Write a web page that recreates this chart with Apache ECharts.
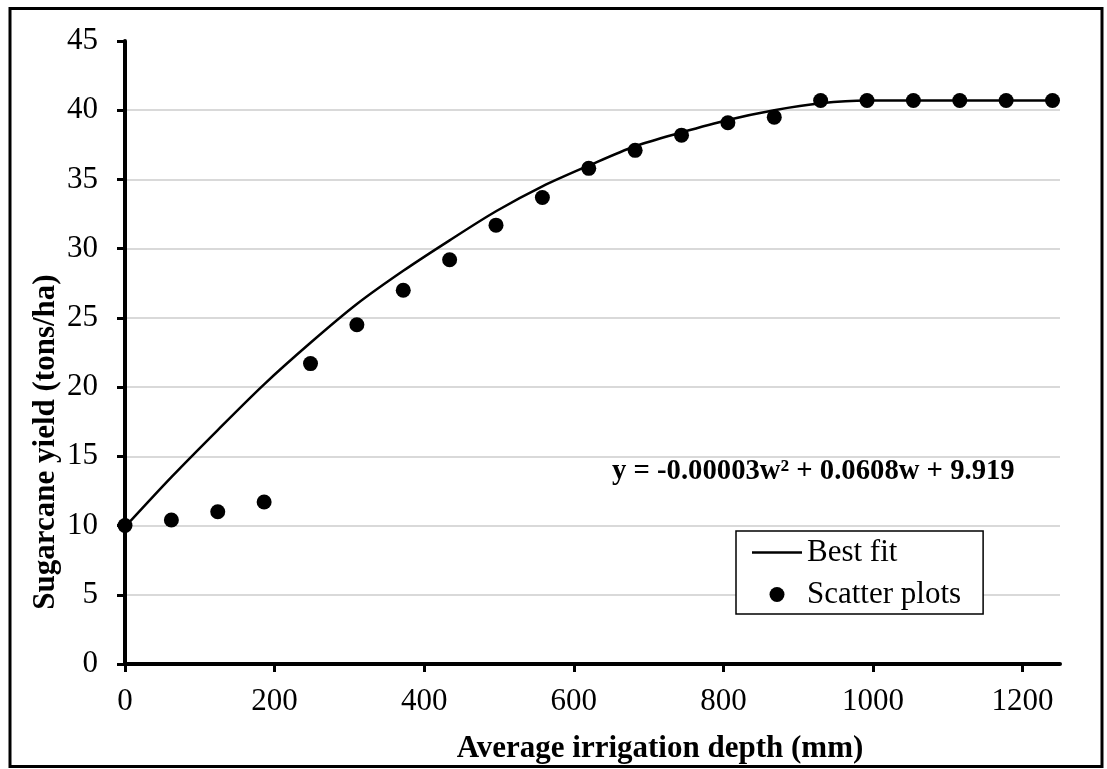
<!DOCTYPE html>
<html>
<head>
<meta charset="utf-8">
<script src="https://cdn.jsdelivr.net/npm/echarts@6/dist/echarts.min.js"></script>
<style>html,body{margin:0;padding:0;background:#fff;}#c{width:1107px;height:769px;}</style>
</head>
<body>
<div id="c"></div>
<script>
// Average irrigation depth (mm)
const depths = [0, 62, 124, 186, 248, 310, 372, 434, 496, 558, 620, 682, 744, 806, 868, 930, 992, 1054, 1116, 1178, 1240];
// Sugarcane yield (tons/ha), scatter plots
const yields = [10.0, 10.4, 11.0, 11.7, 21.7, 24.5, 27.0, 29.2, 31.7, 33.7, 35.8, 37.1, 38.2, 39.1, 39.5, 40.7, 40.7, 40.7, 40.7, 40.7, 40.7];
// Best fit curve
const fitDepths = [0, 62, 124, 186, 248, 310, 372, 434, 496, 558, 620, 682, 744, 806, 868, 930, 992, 1054, 1116, 1178, 1240];
const fitYields = [9.9, 13.5, 16.9, 20.2, 23.2, 26.0, 28.4, 30.6, 32.7, 34.5, 36.0, 37.4, 38.4, 39.3, 40.0, 40.5, 40.7, 40.7, 40.7, 40.7, 40.7];
const xTicks = [0, 200, 400, 600, 800, 1000, 1200];
const equationText = 'y = -0.00003w\u00B2 + 0.0608w + 9.919';
const xTitle = 'Average irrigation depth (mm)';
const yTitle = 'Sugarcane yield (tons/ha)';

const FONT = 'Liberation Serif';
const chart = echarts.init(document.getElementById('c'), null, {renderer: 'canvas'});
chart.setOption({
  backgroundColor: '#fff',
  animation: false,
  grid: {left: 125, right: 47, top: 41, bottom: 105, outerBoundsMode: 'none', containLabel: false},
  xAxis: {
    type: 'value', min: 0, max: 1250, interval: 200,
    axisLine: {show: true, onZero: false, lineStyle: {color: '#000', width: 4}},
    axisTick: {show: true, inside: false, length: 8, lineStyle: {color: '#000', width: 3}, customValues: xTicks},
    axisLabel: {fontFamily: FONT, fontSize: 31, color: '#000', margin: 22, customValues: xTicks, formatter: v => String(v)},
    splitLine: {show: false}
  },
  yAxis: {
    type: 'value', min: 0, max: 45, interval: 5,
    axisLine: {show: true, lineStyle: {color: '#000', width: 4}},
    axisTick: {show: true, inside: false, length: 8, lineStyle: {color: '#000', width: 3}},
    axisLabel: {fontFamily: FONT, fontSize: 31, color: '#000', margin: 27},
    splitLine: {show: true, showMinLine: false, showMaxLine: false, lineStyle: {color: '#d9d9d9', width: 2}}
  },
  legend: {
    orient: 'vertical', left: 736, top: 531,
    backgroundColor: '#fff', borderColor: '#000', borderWidth: 1.5, borderRadius: 0,
    padding: [6, 22, 4, 16], itemGap: 11, itemWidth: 50, itemHeight: 15,
    textStyle: {fontFamily: FONT, fontSize: 31, color: '#000'},
    data: [
      {name: 'Best fit', icon: 'path://M0,0 L50,0 L50,2.5 L0,2.5 Z', itemStyle: {color: '#000'}},
      {name: 'Scatter plots', icon: 'circle', itemStyle: {color: '#000', opacity: 1}}
    ]
  },
  graphic: [
    {type: 'rect', shape: {x: 10, y: 8.5, width: 1092, height: 758}, style: {fill: 'none', stroke: '#000', lineWidth: 3}, silent: true, z: 0},
    {type: 'text', x: 612, y: 472, style: {text: equationText, font: 'bold 28.7px "Liberation Serif"', fill: '#000', textVerticalAlign: 'middle', textAlign: 'left'}, z: 10},
    {type: 'text', x: 660, y: 749, style: {text: xTitle, font: 'bold 31px "Liberation Serif"', fill: '#000', textVerticalAlign: 'middle', textAlign: 'center'}, z: 10},
    {type: 'text', x: 46, y: 442, rotation: Math.PI / 2, style: {text: yTitle, font: 'bold 31px "Liberation Serif"', fill: '#000', textVerticalAlign: 'middle', textAlign: 'center'}, z: 10}
  ],
  series: [
    {
      name: 'Best fit', type: 'line', data: fitDepths.map((d, i) => [d, fitYields[i]]),
      smooth: 0.3, showSymbol: false, symbol: 'none',
      lineStyle: {color: '#000', width: 2.5}, itemStyle: {color: '#000'}, z: 2
    },
    {
      name: 'Scatter plots', type: 'scatter', data: depths.map((d, i) => [d, yields[i]]),
      symbol: 'circle', symbolSize: 15, itemStyle: {color: '#000', opacity: 1}, z: 3
    }
  ]
});
</script>
</body>
</html>
